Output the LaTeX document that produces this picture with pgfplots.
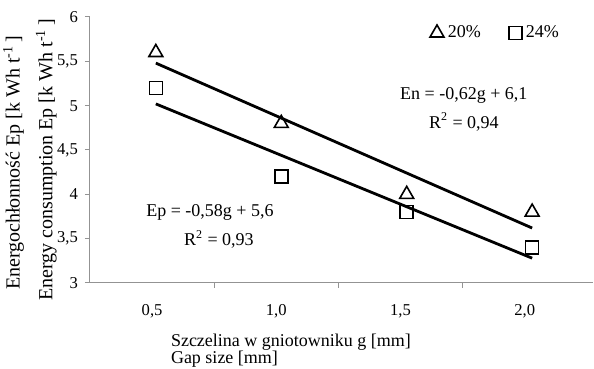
\documentclass[border=0pt]{standalone}
\usepackage{fontspec}
\setmainfont{Liberation Serif}
\usepackage{pgfplots}
\pgfplotsset{compat=1.18}
\begin{document}
\begin{tikzpicture}
\useasboundingbox (-45pt,-43pt) rectangle (252pt,141.5pt);
\begin{axis}[
  at={(0,0)}, anchor=south west,
  scale only axis, width=251.5pt, height=133pt,
  xmin=-0.5, xmax=3.55, ymin=3, ymax=6,
  clip=false,
  axis lines=left,
  axis line style={-, draw=gray!85, line width=0.5pt},
  every tick/.style={draw=gray!85, line width=0.5pt},
  tick align=outside,
  major tick length=2.5pt, minor tick length=2.5pt,
  xtick={0,1,2,3},
  xticklabels={{0,5},{1,0},{1,5},{2,0}},
  major x tick style={draw=none},
  minor xtick={0.5,1.5,2.5},
  ytick={3,3.5,4,4.5,5,5.5,6},
  /pgf/number format/use comma,
  /pgf/number format/assume math mode=true,
  tick label style={font=\fontsize{8.3}{9}\selectfont},
  xticklabel style={yshift=-4.5pt},
  xlabel={Szczelina w gniotowniku g [mm]\\Gap size [mm]},
  xlabel style={align=left, at={(axis description cs:0.147,0)}, anchor=north west, yshift=-22pt,
    font=\fontsize{9}{8.5}\selectfont},
  ylabel={Energochłonność Ep [k Wh t\textsuperscript{-1}\,]},
  ylabel style={at={(axis description cs:-0.152,0.452)}, anchor=center,
    font=\fontsize{10}{11}\selectfont},
  legend style={draw=none, fill=none, at={(axis cs:2.235,5.82)}, anchor=west,
    legend columns=2, inner sep=0pt, font=\fontsize{9}{10}\selectfont,
    /tikz/every even column/.append style={column sep=12pt}},
  legend image code/.code={\draw[#1] plot coordinates {(0pt,0pt)};},
]
% trend lines
\addplot[black, line width=1.4pt, forget plot] coordinates {(0.03,5.48) (3.06,3.62)};
\addplot[black, line width=1.4pt, forget plot] coordinates {(0.03,5.02) (3.06,3.28)};
% data
\addplot[only marks, mark=triangle, mark size=4pt, mark options={black, line width=0.8pt}]
  coordinates {(0.03,5.6) (1.04,4.8) (2.05,4.0) (3.06,3.8)};
\addlegendentry{20\%}
\addplot[only marks, mark=square, mark size=3.25pt, mark options={black, line width=0.8pt}]
  coordinates {(0.03,5.2) (1.04,4.2) (2.05,3.8) (3.06,3.4)};
\addlegendentry{24\%}
\node[font=\fontsize{9}{10}\selectfont] at (axis cs:2.51,5.12) {En = -0,62g + 6,1};
\node[font=\fontsize{9}{10}\selectfont] at (axis cs:2.51,4.82) {R\textsuperscript{2} = 0,94};
\node[font=\fontsize{9}{10}\selectfont] at (axis cs:0.466,3.80) {Ep = -0,58g + 5,6};
\node[font=\fontsize{9}{10}\selectfont] at (axis cs:0.538,3.49) {R\textsuperscript{2} = 0,93};
\node[rotate=90, anchor=center, font=\fontsize{10}{11}\selectfont] at (axis description cs:-0.087,0.462)
  {Energy consumption Ep [k Wh t\textsuperscript{-1}\,]};
\end{axis}
\end{tikzpicture}
\end{document}
